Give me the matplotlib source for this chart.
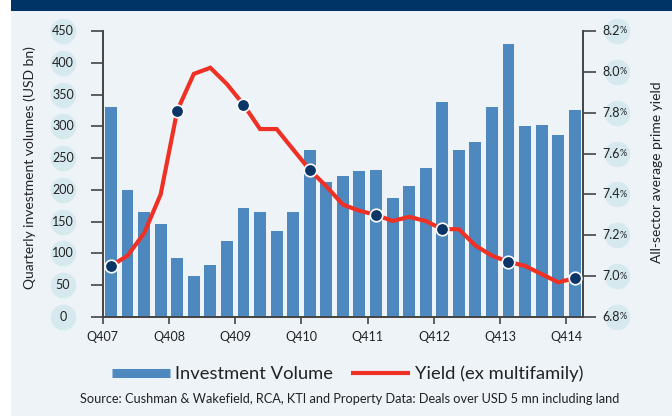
import numpy as np
import matplotlib
matplotlib.use('Agg')
import matplotlib.pyplot as plt
from matplotlib.lines import Line2D
from matplotlib.patches import Rectangle

plt.rcParams['font.family'] = ['Lato', 'DejaVu Sans']

# Data
quarters = ['Q407', 'Q108', 'Q208', 'Q308', 'Q408', 'Q109', 'Q209', 'Q309', 'Q409',
            'Q110', 'Q210', 'Q310', 'Q410', 'Q111', 'Q211', 'Q311', 'Q411',
            'Q112', 'Q212', 'Q312', 'Q412', 'Q113', 'Q213', 'Q313', 'Q413',
            'Q114', 'Q214', 'Q314', 'Q414']
volume = [330, 200, 165, 147, 93, 65, 82, 119, 172, 165, 135, 165, 262,
          212, 222, 230, 231, 187, 206, 235, 338, 262, 275, 330, 430,
          300, 302, 287, 325]
yield_pct = [7.05, 7.10, 7.21, 7.40, 7.81, 7.99, 8.02, 7.94, 7.84, 7.72, 7.72,
             7.62, 7.52, 7.44, 7.35, 7.32, 7.30, 7.27, 7.29, 7.27, 7.23, 7.23,
             7.15, 7.10, 7.07, 7.05, 7.01, 6.97, 6.99]
tick_labels = ['Q407', 'Q408', 'Q409', 'Q410', 'Q411', 'Q412', 'Q413', 'Q414']
left_ticks = [0, 50, 100, 150, 200, 250, 300, 350, 400, 450]
right_ticks = [6.8, 7.0, 7.2, 7.4, 7.6, 7.8, 8.0, 8.2]

bg = '#eef3f8'
bar_color = '#4d88bf'
line_color = '#ee3124'
navy = '#0b3566'
circle_color = '#d6e9ef'
text_color = '#222222'
spine_color = '#444444'

fig = plt.figure(figsize=(6.72, 4.16), dpi=100, facecolor=bg)
# banner and white strip
fig.patches.append(Rectangle((0, 0), 11 / 672, 1, transform=fig.transFigure,
                             facecolor='white', edgecolor='none', zorder=0))
fig.patches.append(Rectangle((11 / 672, 1 - 11 / 416), 1, 11 / 416, transform=fig.transFigure,
                             facecolor='#003366', edgecolor='none', zorder=0))

ax = fig.add_axes([0.1528, 0.238, 0.7148, 0.6875])
ax.set_facecolor('none')
x = np.arange(len(volume))
ax.bar(x, volume, width=0.72, color=bar_color, zorder=2)
ax.set_xlim(-0.5, len(volume) - 0.5)
ax.set_ylim(0, 450)

ax2 = ax.twinx()
ax2.plot(x, yield_pct, color=line_color, lw=3, zorder=3, solid_joinstyle='miter')
ax2.plot(x[::4], np.array(yield_pct)[::4], 'o', color=navy, markersize=9,
         markeredgecolor='white', markeredgewidth=1.2, zorder=4)
ax2.set_ylim(6.8, 8.2)

for a in (ax, ax2):
    a.spines['top'].set_visible(False)
    for s in ('left', 'right', 'bottom'):
        a.spines[s].set_color(spine_color)
        a.spines[s].set_linewidth(1.2)

# x ticks at year boundaries
ax.set_xticks(np.arange(len(volume))[::4] - 0.5)
ax.set_xticklabels(tick_labels, fontsize=9, color=text_color)
ax.tick_params(axis='x', length=5, width=1.2, color=spine_color, pad=5)

# left ticks with circle badges
ax.set_yticks(left_ticks)
ax.set_yticklabels([])
ax.tick_params(axis='y', length=9, width=1.2, color=spine_color)
tl = ax.get_yaxis_transform()
ax.scatter([-0.0827] * len(left_ticks), left_ticks, s=340, color=circle_color,
           transform=tl, clip_on=False, zorder=1, linewidths=0)
for v in left_ticks:
    ax.text(-0.0827, v, str(v), transform=tl, ha='center', va='center',
            fontsize=9, color=text_color, clip_on=False)

ax2.set_yticks(right_ticks)
ax2.set_yticklabels([])
ax2.tick_params(axis='y', length=9, width=1.2, color=spine_color)
tr = ax2.get_yaxis_transform()
ax2.scatter([1.0708] * len(right_ticks), right_ticks, s=340, color=circle_color,
            transform=tr, clip_on=False, zorder=1, linewidths=0)
for v in right_ticks:
    ax2.text(1.0768, v, f'{v:.1f}', transform=tr, ha='right', va='center',
             fontsize=9, color=text_color, clip_on=False)
    ax2.text(1.0768, v, '%', transform=tr, ha='left', va='center',
             fontsize=6.5, color=text_color, clip_on=False)

fig.text(30 / 672, 1 - 168 / 416, 'Quarterly investment volumes (USD bn)', rotation=90,
         ha='center', va='center', fontsize=10, color=text_color)
fig.text(657 / 672, 1 - 172 / 416, 'All-sector average prime yield', rotation=90,
         ha='center', va='center', fontsize=10, color=text_color)

handles = [Line2D([], [], color=bar_color, lw=6.5, solid_capstyle='butt'),
           Line2D([], [], color=line_color, lw=3, solid_capstyle='butt')]
fig.legend(handles, ['Investment Volume', 'Yield (ex multifamily)'], ncol=2,
           loc='center', bbox_to_anchor=(0.517, 1 - 374 / 416), frameon=False,
           fontsize=13.2, handlelength=3.2, handletextpad=0.25, columnspacing=1.0,
           labelcolor=text_color)

fig.text(0.52, 1 - 399 / 416,
         'Source: Cushman & Wakefield, RCA, KTI and Property Data: Deals over USD 5 mn including land',
         ha='center', va='center', fontsize=9.2, color=text_color)

fig.savefig('out.png', dpi=100, facecolor=bg)
